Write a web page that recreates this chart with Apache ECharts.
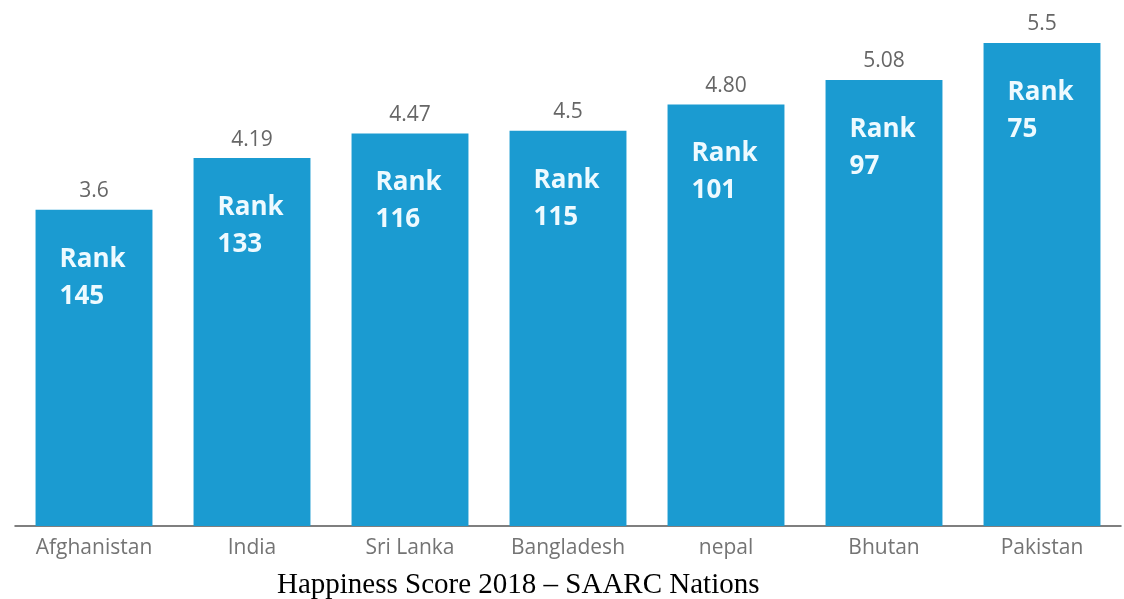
<!DOCTYPE html>
<html>
<head>
<meta charset="utf-8">
<script src="https://cdn.jsdelivr.net/npm/echarts@6/dist/echarts.min.js"></script>
<style>
  html, body { margin: 0; padding: 0; background: #fff; }
  #chart { width: 1124px; height: 599px; }
</style>
</head>
<body>
<div id="chart"></div>
<script>
// Happiness score 2018 of the SAARC nations, with world rank
const countries = ['Afghanistan', 'India', 'Sri Lanka', 'Bangladesh', 'nepal', 'Bhutan', 'Pakistan'];
const scores = [3.6, 4.19, 4.47, 4.5, 4.80, 5.08, 5.5];
const scoreText = ['3.6', '4.19', '4.47', '4.5', '4.80', '5.08', '5.5'];
const ranks = [145, 133, 116, 115, 101, 97, 75];
const chartTitle = 'Happiness Score 2018 \u2013 SAARC Nations';

const chart = echarts.init(document.getElementById('chart'), null, { renderer: 'canvas' });

chart.setOption({
  animation: false,
  backgroundColor: '#ffffff',
  title: {
    text: chartTitle,
    left: 277,
    top: 571,
    padding: 0,
    textStyle: {
      fontFamily: '"Liberation Serif", "Times New Roman", serif',
      fontWeight: 'normal',
      fontSize: 29,
      color: '#000'
    }
  },
  grid: { left: 15, right: 3, top: 43, bottom: 73, containLabel: false },
  xAxis: {
    type: 'category',
    data: countries,
    axisLine: { lineStyle: { color: '#555', width: 1.5 } },
    axisTick: { show: false },
    axisLabel: {
      margin: 12,
      fontFamily: '"Open Sans", "DejaVu Sans", sans-serif',
      fontSize: 21,
      color: '#747474'
    }
  },
  yAxis: {
    type: 'value',
    min: 0,
    max: 5.5,
    show: false,
    splitLine: { show: false }
  },
  series: [
    {
      // score bars, with the score above each bar
      type: 'bar',
      data: scores,
      barCategoryGap: '26%',
      itemStyle: { color: '#1b9bd1' },
      label: {
        show: true,
        position: 'top',
        distance: 8,
        formatter: p => scoreText[p.dataIndex],
        fontFamily: '"Open Sans", "DejaVu Sans", sans-serif',
        fontSize: 21,
        color: '#666'
      },
      z: 2
    },
    {
      // rank text drawn inside each bar
      type: 'bar',
      data: scores,
      barGap: '-100%',
      barCategoryGap: '26%',
      itemStyle: { color: 'rgba(0,0,0,0)' },
      label: {
        show: true,
        position: [24, 31],
        align: 'left',
        verticalAlign: 'top',
        formatter: p => 'Rank\n' + ranks[p.dataIndex],
        fontFamily: '"Open Sans", "DejaVu Sans", sans-serif',
        fontWeight: 'bold',
        fontSize: 26,
        lineHeight: 37,
        color: '#eefaff'
      },
      silent: true,
      z: 3
    }
  ]
});
</script>
</body>
</html>
